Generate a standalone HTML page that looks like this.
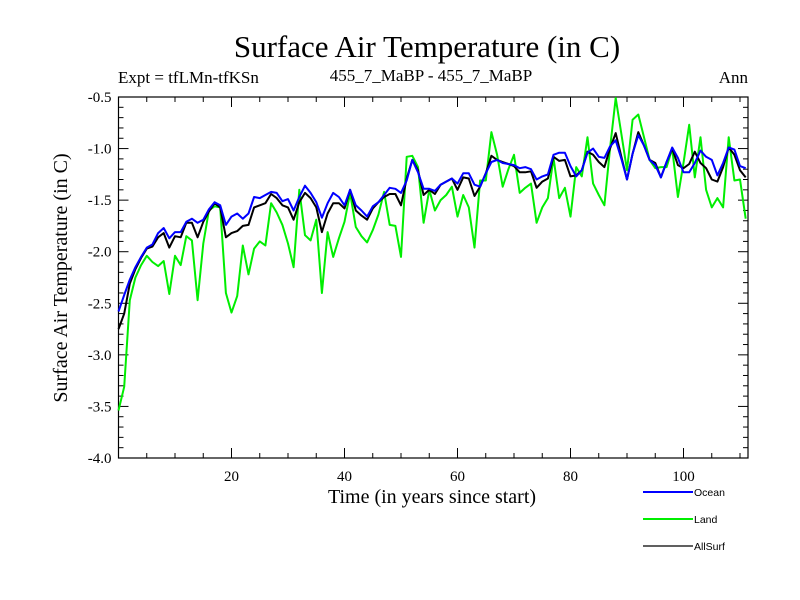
<!DOCTYPE html>
<html><head><meta charset="utf-8"><style>
body{margin:0;background:#fff}
svg{display:block}
text{font-family:"Liberation Serif",serif}
text.sans{font-family:"Liberation Sans",sans-serif}
</style></head><body>
<svg id="chart" width="800" height="600" xmlns="http://www.w3.org/2000/svg">
<rect width="800" height="600" fill="#fff"/>
<text x="427" y="57" font-size="31" text-anchor="middle">Surface Air Temperature (in C)</text>
<text x="118" y="83" font-size="17">Expt = tfLMn-tfKSn</text>
<text x="431" y="81" font-size="17" text-anchor="middle">455_7_MaBP - 455_7_MaBP</text>
<text x="748" y="83" font-size="17" text-anchor="end">Ann</text>
<text transform="translate(67,278) rotate(-90)" font-size="20" text-anchor="middle">Surface Air Temperature (in C)</text>
<text x="432" y="503" font-size="20" text-anchor="middle">Time (in years since start)</text>
<g id="axes"></g>
<g id="series"></g>
<g id="legend"></g>
</svg>
<script>
const years = Array.from({length:112},(_,i)=>i);
const ocean = [-2.58,-2.42,-2.27,-2.15,-2.05,-1.96,-1.93,-1.82,-1.77,-1.87,-1.81,-1.81,-1.71,-1.68,-1.72,-1.69,-1.59,-1.52,-1.55,-1.74,-1.66,
-1.63,-1.68,-1.63,-1.47,-1.48,-1.45,-1.42,-1.43,-1.51,-1.49,-1.60,-1.47,-1.36,-1.43,-1.52,
-1.67,-1.53,-1.43,-1.47,-1.55,-1.40,-1.55,-1.60,-1.66,-1.56,-1.52,-1.45,-1.38,-1.39,-1.43,-1.31,-1.11,-1.23,-1.39,-1.39,-1.41,-1.35,-1.32,-1.29,-1.34,-1.24,-1.24,-1.35,-1.37,-1.24,-1.13,-1.11,-1.14,-1.15,-1.16,-1.19,-1.18,-1.20,
-1.30,-1.27,-1.25,-1.06,-1.04,-1.04,-1.17,-1.27,-1.21,-1.04,-1.00,-1.08,-1.09,-0.98,-0.92,-1.10,-1.30,-1.05,-0.87,-0.97,-1.11,-1.16,-1.28,-1.13,-0.99,-1.09,-1.23,-1.23,-1.14,-1.02,-1.08,-1.11,-1.26,-1.14,-0.99,-1.01,-1.17,-1.19];
const land = [-3.54,-3.31,-2.47,-2.25,-2.13,-2.04,-2.10,-2.14,-2.09,-2.41,-2.04,-2.13,-1.85,-1.89,-2.47,-1.92,-1.60,-1.56,-1.57,-2.40,-2.59,
-2.43,-1.94,-2.22,-1.97,-1.90,-1.94,-1.53,-1.62,-1.74,-1.92,-2.15,-1.40,-1.84,-1.89,-1.69,
-2.40,-1.81,-2.05,-1.87,-1.71,-1.43,-1.76,-1.85,-1.91,-1.79,-1.64,-1.42,-1.74,-1.75,-2.05,-1.08,-1.07,-1.18,-1.72,-1.40,-1.60,-1.50,-1.45,-1.37,-1.66,-1.45,-1.57,-1.96,-1.31,-1.31,-0.84,-1.06,-1.37,-1.20,-1.06,-1.43,-1.38,-1.34,
-1.72,-1.57,-1.48,-1.09,-1.48,-1.38,-1.66,-1.18,-1.27,-0.89,-1.34,-1.45,-1.55,-1.00,-0.51,-0.86,-1.21,-0.72,-0.67,-0.89,-1.11,-1.19,-1.18,-1.18,-1.00,-1.47,-1.14,-0.77,-1.28,-0.89,-1.40,-1.57,-1.48,-1.57,-0.89,-1.31,-1.30,-1.68];
const allSurf = [-2.75,-2.60,-2.31,-2.17,-2.06,-1.97,-1.95,-1.86,-1.82,-1.96,-1.85,-1.86,-1.72,-1.72,-1.86,-1.71,-1.61,-1.53,-1.57,-1.86,-1.82,
-1.80,-1.75,-1.74,-1.57,-1.55,-1.53,-1.44,-1.48,-1.55,-1.57,-1.69,-1.52,-1.43,-1.48,-1.57,
-1.81,-1.63,-1.53,-1.53,-1.58,-1.40,-1.60,-1.65,-1.69,-1.58,-1.52,-1.47,-1.44,-1.44,-1.55,-1.29,-1.11,-1.21,-1.45,-1.40,-1.44,-1.35,-1.32,-1.29,-1.40,-1.28,-1.29,-1.46,-1.37,-1.24,-1.07,-1.11,-1.13,-1.15,-1.17,-1.23,-1.23,-1.22,
-1.38,-1.32,-1.29,-1.08,-1.12,-1.11,-1.27,-1.26,-1.21,-1.03,-1.06,-1.13,-1.18,-1.00,-0.85,-1.08,-1.30,-1.05,-0.84,-0.97,-1.11,-1.14,-1.28,-1.13,-1.00,-1.16,-1.19,-1.15,-1.03,-1.14,-1.19,-1.30,-1.32,-1.18,-0.99,-1.06,-1.21,-1.28];
const xTicks = [20,40,60,80,100];
const yTicks = [-0.5,-1.0,-1.5,-2.0,-2.5,-3.0,-3.5,-4.0];
const seriesNames = ["Ocean","Land","AllSurf"];

const L=118.5,R=748,T=97,B=458;
const x=v=>L+v*5.65;
const y=v=>T+(-0.5-v)*103.14;
const NS="http://www.w3.org/2000/svg";
function mk(tag,attrs,parent){const e=document.createElementNS(NS,tag);for(const k in attrs)e.setAttribute(k,attrs[k]);parent.appendChild(e);return e;}
const axes=document.getElementById('axes');
const frame=mk('rect',{x:L,y:T,width:R-L,height:B-T,fill:'none',stroke:'#000','stroke-width':1.2},axes);


for(let v=5;v<=110;v+=5){
  const major=v%20===0, len=major?10:5, px=x(v);
  mk('line',{x1:px,y1:B,x2:px,y2:B-len,stroke:'#000'},axes);
  mk('line',{x1:px,y1:T,x2:px,y2:T+len,stroke:'#000'},axes);
}
xTicks.forEach(v=>{
  const t=mk('text',{x:x(v),y:B+23,'font-size':15,'text-anchor':'middle'},axes);
  t.textContent=v;
  
  
});
for(let k=0;k<=35;k++){
  const v=-0.5-k*0.1, major=k%5===0, len=major?10:5, py=y(v);
  mk('line',{x1:L,y1:py,x2:L+len,y2:py,stroke:'#000'},axes);
  mk('line',{x1:R,y1:py,x2:R-len,y2:py,stroke:'#000'},axes);
}
yTicks.forEach(v=>{
  const t=mk('text',{x:L-7,y:y(v)+5,'font-size':15,'text-anchor':'end'},axes);
  t.textContent=v.toFixed(1);
  
  
});
const ser=document.getElementById('series');
const defs=[[land,'#00ee00',2,'land-line'],[allSurf,'#000',2,'allsurf-line'],[ocean,'#0000ff',2,'ocean-line']];
defs.forEach(([d,c,w,n])=>{
  const p=mk('polyline',{points:d.map((v,i)=>x(years[i]).toFixed(1)+','+y(v).toFixed(1)).join(' '),fill:'none',stroke:c,'stroke-width':w,'stroke-linejoin':'round'},ser);
  
  
});
const leg=document.getElementById('legend');
const lc=['#0000ff','#00ee00','#000'];const lw=[2,2,1.3];
seriesNames.forEach((s,i)=>{
  const yy=492+i*27;
  const g=mk('g',{},leg);
  
  
  mk('line',{x1:643,y1:yy,x2:693,y2:yy,stroke:lc[i],'stroke-width':lw[i]},g);
  const t=mk('text',{x:694,y:yy+4,'font-size':10.5,'class':'sans'},g);
  t.textContent=s;
});
</script>
</body></html>
